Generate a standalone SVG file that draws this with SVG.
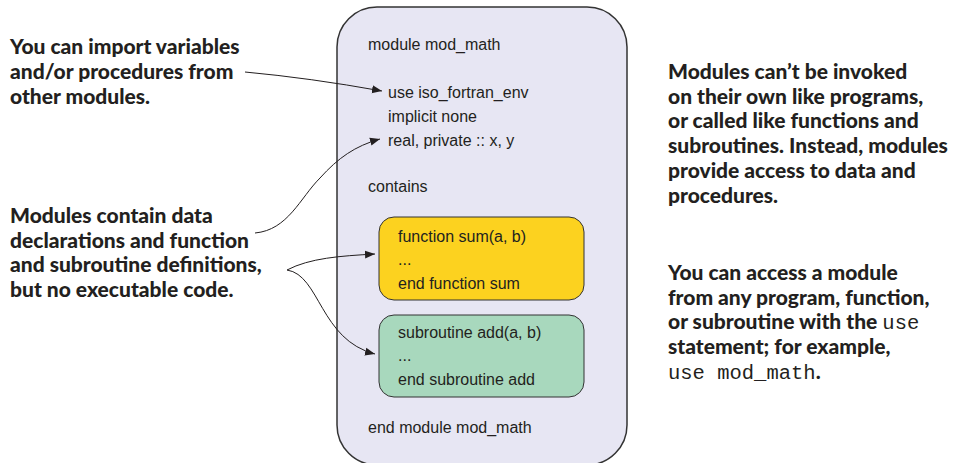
<svg xmlns="http://www.w3.org/2000/svg" width="957" height="463" viewBox="0 0 957 463">
<defs>
<marker id="ah" viewBox="0 0 10 10" refX="10" refY="5" markerWidth="10" markerHeight="10" markerUnits="userSpaceOnUse" orient="auto">
<path d="M0,1 L10,5 L0,9 Z" fill="#231f20"/>
</marker>
<style>
.note{font-family:Lato,"Open Sans","Liberation Sans",sans-serif;font-weight:900;font-size:21px;fill:#231f20}
.code{font-family:"Liberation Sans",Arial,sans-serif;font-size:16px;fill:#231f20}
.mono{font-family:"Liberation Mono","Courier New",monospace;font-weight:normal;font-size:20.5px}
.conn{fill:none;stroke:#231f20;stroke-width:1;marker-end:url(#ah)}
</style>
</defs>
<rect width="957" height="463" fill="#ffffff"/>
<g id="module">
<rect x="337" y="7" width="290" height="458" rx="40" ry="40" fill="#e7e6f3" stroke="#333333" stroke-width="1.5"/>
<text class="code" x="368" y="50">module mod_math</text>
<text class="code" x="388" y="98">use iso_fortran_env</text>
<text class="code" x="388" y="122">implicit none</text>
<text class="code" x="388" y="146">real, private :: x, y</text>
<text class="code" x="368" y="192">contains</text>
<text class="code" x="368" y="433">end module mod_math</text>
</g>
<g id="function">
<rect x="379" y="217" width="205" height="83" rx="15" ry="15" fill="#fcd21f" stroke="#333333" stroke-width="1"/>
<text class="code" x="398" y="242">function sum(a, b)</text>
<text class="code" x="398" y="265">...</text>
<text class="code" x="398" y="289">end function sum</text>
</g>
<g id="subroutine">
<rect x="379" y="315" width="205" height="82" rx="15" ry="15" fill="#a8d8bd" stroke="#333333" stroke-width="1"/>
<text class="code" x="398" y="338">subroutine add(a, b)</text>
<text class="code" x="398" y="361">...</text>
<text class="code" x="398" y="385">end subroutine add</text>
</g>
<g id="note-import">
<text class="note" x="10" y="54">You can import variables</text>
<text class="note" x="10" y="79">and/or procedures from</text>
<text class="note" x="10" y="104">other modules.</text>
</g>
<g id="note-contain">
<text class="note" x="10" y="223">Modules contain data</text>
<text class="note" x="10" y="248">declarations and function</text>
<text class="note" x="10" y="272">and subroutine definitions,</text>
<text class="note" x="10" y="297">but no executable code.</text>
</g>
<g id="note-invoke">
<text class="note" x="668" y="79">Modules can’t be invoked</text>
<text class="note" x="668" y="104">on their own like programs,</text>
<text class="note" x="668" y="128">or called like functions and</text>
<text class="note" x="668" y="153">subroutines. Instead, modules</text>
<text class="note" x="668" y="178">provide access to data and</text>
<text class="note" x="668" y="203">procedures.</text>
</g>
<g id="note-access">
<text class="note" x="668" y="280">You can access a module</text>
<text class="note" x="668" y="305">from any program, function,</text>
<text class="note" x="668" y="329">or subroutine with the <tspan class="mono">use</tspan></text>
<text class="note" x="668" y="354">statement; for example,</text>
<text class="note" x="668" y="379"><tspan class="mono">use mod_math</tspan>.</text>
</g>
<g id="connectors">
<path class="conn" d="M245,72 Q310,78 382,91"/>
<path class="conn" d="M255,233 C288,230 300,198 320,178 C338,158 355,146 380,139"/>
<path class="conn" d="M287,270 C310,258 340,256 375,254"/>
<path class="conn" d="M287,270 C320,275 320,340 375,354"/>
</g>
</svg>
